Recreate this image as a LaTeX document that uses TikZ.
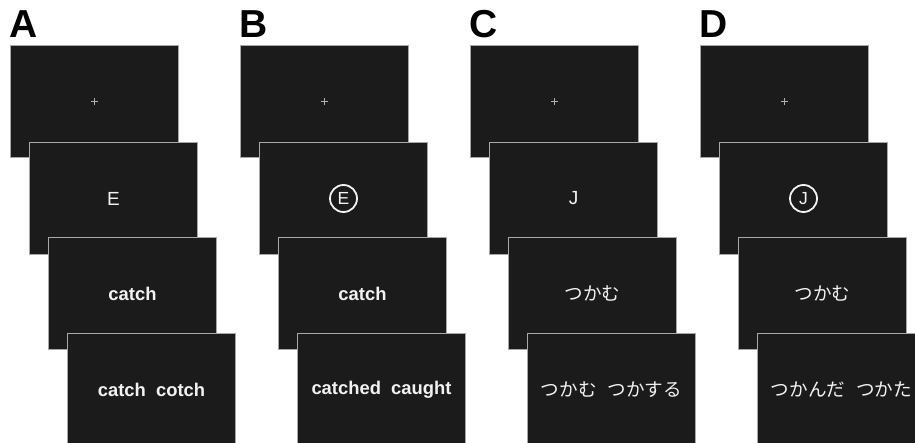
\documentclass[tikz,border=0pt]{standalone}
\usepackage{fontspec}
\setmainfont{Liberation Sans}
\newfontfamily\jpfont{Noto Sans CJK JP}
\definecolor{screenfill}{HTML}{1B1B1B}
\definecolor{screenedge}{HTML}{A8A8A8}
\definecolor{screentext}{HTML}{F2F2F2}
\definecolor{crossgray}{HTML}{B0B0B0}
\begin{document}
\begin{tikzpicture}[x=1pt,y=-1pt,
  screen/.style={draw=screenedge, fill=screenfill, line width=1pt,
    minimum width=168pt, minimum height=112pt, inner sep=0pt,
    anchor=north west, text=screentext},
  wordfont/.style={font=\fontsize{18.4}{20}\selectfont\bfseries},
  letterfont/.style={font=\fontsize{19}{21}\selectfont},
  jpword/.style={font=\fontsize{18.6}{20}\selectfont\jpfont},
  panellabel/.style={font=\fontsize{39}{40}\selectfont\bfseries, inner sep=0pt, anchor=base west},
  ringed/.style={draw=screentext, line width=1.8pt, circle, minimum size=27pt, inner sep=0pt,
    text=screentext, font=\fontsize{17.5}{19}\selectfont},
  fixcross/.style={draw=crossgray, line width=1.5pt}
]
\useasboundingbox (0,0) rectangle (915,443);
\clip (0,0) rectangle (915,443);

% ---------- Panel A ----------
\node[panellabel] (lA) at (9,38) {A};
\node[screen] (sA1) at (10,45) {};
\node[screen, letterfont] (sA2) at (29,142) {E};
\node[screen, wordfont] (sA3) at (48,237) {catch};
\node[screen, wordfont] (sA4) at (67,333) {catch\hspace{0.55em}cotch};
\draw[fixcross] ([xshift=-3.5pt]sA1.center) -- ([xshift=3.5pt]sA1.center)
                ([yshift=-3.5pt]sA1.center) -- ([yshift=3.5pt]sA1.center);

% ---------- Panel B ----------
\node[panellabel] (lB) at (239,38) {B};
\node[screen] (sB1) at (240,45) {};
\node[screen] (sB2) at (259,142) {};
\node[ringed] (cB) at (sB2.center) {E};
\node[screen, wordfont] (sB3) at (278,237) {catch};
\node[screen, wordfont] (sB4) at (297,333) {catched\hspace{0.55em}caught};
\draw[fixcross] ([xshift=-3.5pt]sB1.center) -- ([xshift=3.5pt]sB1.center)
                ([yshift=-3.5pt]sB1.center) -- ([yshift=3.5pt]sB1.center);

% ---------- Panel C ----------
\node[panellabel] (lC) at (469,38) {C};
\node[screen] (sC1) at (470,45) {};
\node[screen, letterfont] (sC2) at (489,142) {J};
\node[screen, jpword] (sC3) at (508,237) {つかむ};
\node[screen, jpword] (sC4) at (527,333) {つかむ\hspace{0.6em}つかする};
\draw[fixcross] ([xshift=-3.5pt]sC1.center) -- ([xshift=3.5pt]sC1.center)
                ([yshift=-3.5pt]sC1.center) -- ([yshift=3.5pt]sC1.center);

% ---------- Panel D ----------
\node[panellabel] (lD) at (699,38) {D};
\node[screen] (sD1) at (700,45) {};
\node[screen] (sD2) at (719,142) {};
\node[ringed] (cD) at (sD2.center) {J};
\node[screen, jpword] (sD3) at (738,237) {つかむ};
\node[screen, jpword] (sD4) at (757,333) {つかんだ\hspace{0.6em}つかた};
\draw[fixcross] ([xshift=-3.5pt]sD1.center) -- ([xshift=3.5pt]sD1.center)
                ([yshift=-3.5pt]sD1.center) -- ([yshift=3.5pt]sD1.center);
\end{tikzpicture}
\end{document}
